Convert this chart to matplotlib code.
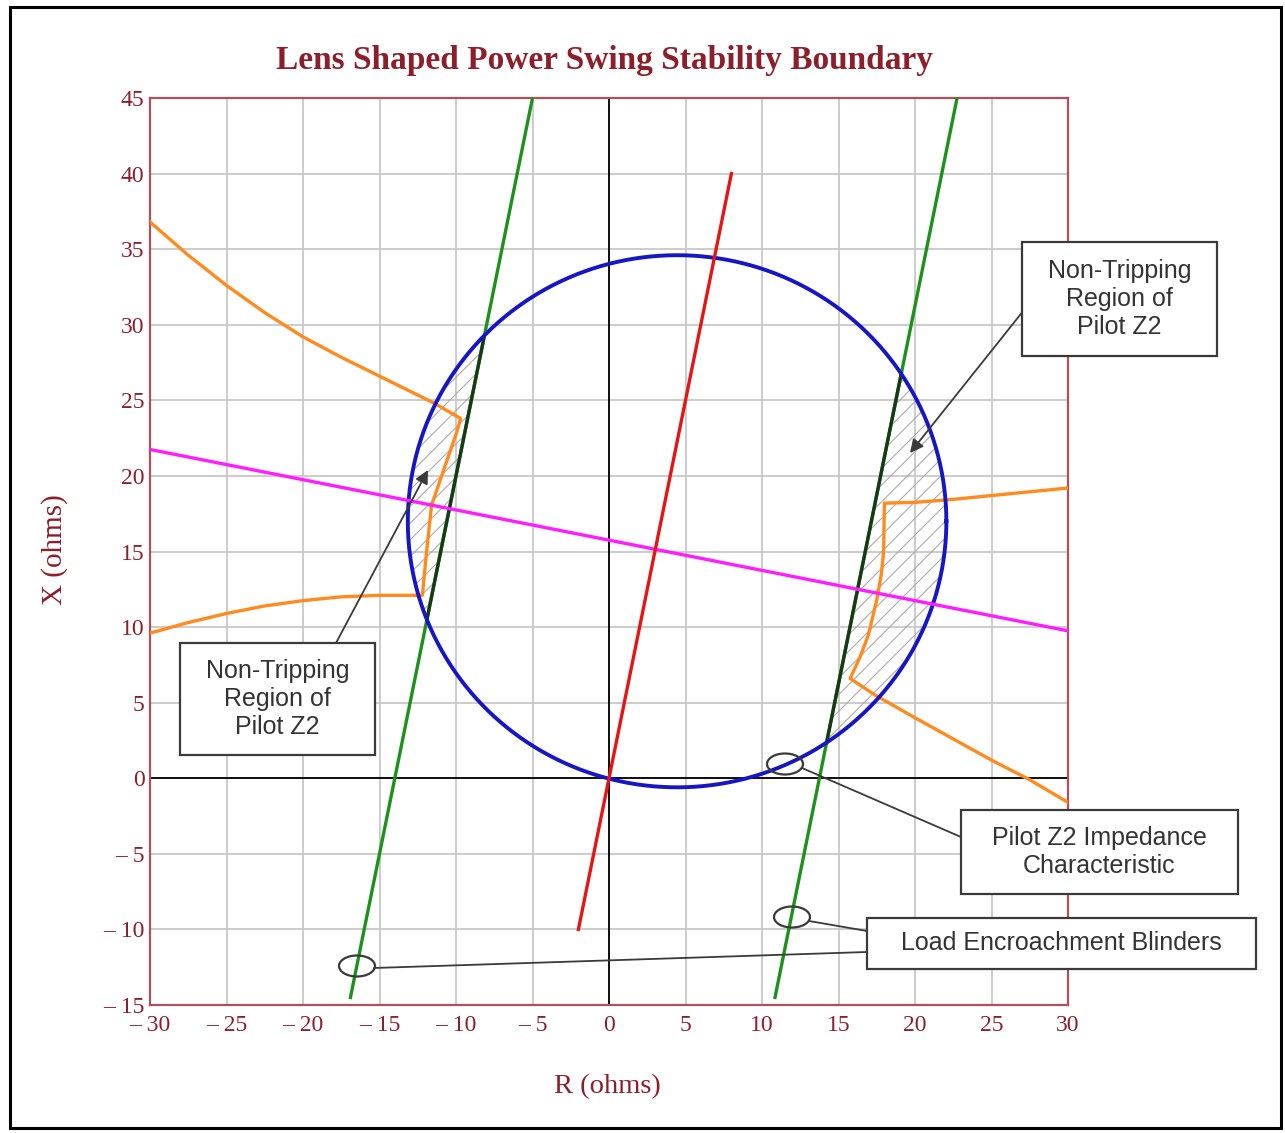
import numpy as np
import matplotlib
matplotlib.use("Agg")
import matplotlib.pyplot as plt
from matplotlib.patches import Circle, Polygon, Rectangle, Ellipse, FancyArrowPatch
from matplotlib.lines import Line2D

# ---------------- data ----------------
title = "Lens Shaped Power Swing Stability Boundary"
xlabel = "R (ohms)"
ylabel = "X (ohms)"
r_ticks = list(range(-30, 31, 5))
x_ticks = list(range(-15, 46, 5))

# Pilot Z2 mho circle
circle_center_r = 4.45
circle_center_x = 17.0
circle_radius = 17.6

# line angle (slope X/R) shared by the characteristic line and blinders
line_slope = 5.0
char_line_r = [-2.0, 8.0]           # red line R extent
left_blinder_r0 = -14.0             # R intercept at X = 0
right_blinder_r0 = 13.75
blinder_x_range = [-14.5, 45.0]

# magenta line
mag_r = [-30.0, 30.0]
mag_x = [21.75, 9.75]

# orange boundaries
orange_left_r = [-30, -27.5, -25, -22.5, -20, -17.5, -15, -12.5, -11.4, -9.7,
                 -9.95, -10.7, -11.6, -11.9, -12.2,
                 -15, -17.5, -20, -22.5, -25, -27.5, -30]
orange_left_x = [36.8, 34.6, 32.6, 30.8, 29.2, 27.85, 26.6, 25.35, 24.8, 23.8,
                 22.9, 20.7, 18.05, 15.2, 12.1,
                 12.1, 12.0, 11.75, 11.4, 10.9, 10.3, 9.6]
orange_right_r = [30, 27.5, 25, 22.5, 20, 18.0,
                  17.95, 17.8, 17.5, 16.96, 16.4, 15.76,
                  17.4, 20, 22.5, 25, 27.5, 30]
orange_right_x = [19.2, 18.95, 18.7, 18.45, 18.25, 18.2,
                  15.0, 13.5, 11.8, 9.5, 8.0, 6.6,
                  5.5, 4.0, 2.6, 1.2, -0.1, -1.6]

# ---------------- style ----------------
W, H = 1285, 1133
DARKRED = "#8b1f2c"
SPINE = "#b0505e"
BOXC = "#3a3a3a"
plt.rcParams["hatch.linewidth"] = 0.8

fig = plt.figure(figsize=(W / 100, H / 100), dpi=100)
fig.patch.set_facecolor("white")
ax = fig.add_axes([150 / W, 1 - 1005 / H, (1068 - 150) / W, (1005 - 98) / H])

ax.set_xlim(-30, 30)
ax.set_ylim(-15, 45)

def lab(v):
    return "\u2013 " + str(abs(v)) if v < 0 else str(v)

ax.set_xticks(r_ticks)
ax.set_xticklabels([lab(v) for v in r_ticks])
ax.set_yticks(x_ticks)
ax.set_yticklabels([lab(v) for v in x_ticks])
ax.tick_params(axis="x", length=0, labelsize=17, labelcolor=DARKRED, pad=7)
ax.tick_params(axis="y", length=0, labelsize=17, labelcolor=DARKRED, pad=4)
for t in ax.get_xticklabels() + ax.get_yticklabels():
    t.set_fontfamily("Liberation Serif")
ax.grid(True, color="#c8c8c8", lw=1.3, zorder=0)
ax.set_axisbelow(True)
for s in ax.spines.values():
    s.set_color(SPINE)
    s.set_linewidth(1.6)

ax.axhline(0, color="black", lw=1.3, zorder=1)
ax.axvline(0, color="black", lw=1.3, zorder=1)

# hatched non-tripping regions (circle clipped by blinder half-planes)
def blinder_r(r0, xv):
    return r0 + np.asarray(xv) / line_slope

ylo, yhi = -30.0, 60.0
for r0, side in [(left_blinder_r0, -1), (right_blinder_r0, 1)]:
    far = 100 * side
    clip = Polygon([(blinder_r(r0, ylo), ylo), (blinder_r(r0, yhi), yhi),
                    (far, yhi), (far, ylo)], closed=True,
                   transform=ax.transData, facecolor="none", edgecolor="none")
    hp = Circle((circle_center_r, circle_center_x), circle_radius,
                facecolor="none", edgecolor="#ababab", lw=0, hatch="//", zorder=2)
    ax.add_patch(hp)
    hp.set_clip_path(clip)

# blinders
for r0 in (left_blinder_r0, right_blinder_r0):
    xv = np.array(blinder_x_range)
    ax.plot(blinder_r(r0, xv), xv, color="#1c921c", lw=2.4, zorder=3)
    # dark segment inside circle
    a = 1 / line_slope
    b = r0 - circle_center_r
    A = a * a + 1
    B = 2 * a * b - 2 * circle_center_x
    C = b * b + circle_center_x ** 2 - circle_radius ** 2
    disc = np.sqrt(B * B - 4 * A * C)
    xs = np.array([(-B - disc) / (2 * A), (-B + disc) / (2 * A)])
    ax.plot(blinder_r(r0, xs), xs, color="#163a16", lw=2.4, zorder=3.1)

# orange boundaries
ax.plot(orange_left_r, orange_left_x, color="#ff8a1e", lw=2.4, zorder=4,
        solid_joinstyle="round")
ax.plot(orange_right_r, orange_right_x, color="#ff8a1e", lw=2.4, zorder=4,
        solid_joinstyle="round")

# mho circle
th = np.linspace(0, 2 * np.pi, 600)
ax.plot(circle_center_r + circle_radius * np.cos(th),
        circle_center_x + circle_radius * np.sin(th),
        color="#1616c4", lw=2.8, zorder=5)

# magenta line
ax.plot(mag_r, mag_x, color="#ff1cff", lw=2.4, zorder=6)

# characteristic line
cr = np.array(char_line_r)
ax.plot(cr, line_slope * cr, color="#e81414", lw=2.4, zorder=7)

# titles / labels
fig.text(605 / W, 1 - 60 / H, title, ha="center", va="center",
         fontsize=24, fontweight="bold", color=DARKRED, family="Liberation Serif")
fig.text(607 / W, 1 - 1087 / H, xlabel, ha="center", va="center",
         fontsize=20.5, color=DARKRED, family="Liberation Serif")
fig.text(55 / W, 1 - 550 / H, ylabel, ha="center", va="center", rotation=90,
         fontsize=21, color=DARKRED, family="Liberation Serif")

# ---------------- annotations (figure pixel layout) ----------------
def fp(px, py):
    return (px / W, 1 - py / H)

def box(x0, y0, x1, y1, text):
    fig.add_artist(Rectangle(fp(x0, y1), (x1 - x0) / W, (y1 - y0) / H,
                             transform=fig.transFigure, facecolor="white",
                             edgecolor=BOXC, lw=1.6, zorder=10))
    cx, cy = fp((x0 + x1) / 2, (y0 + y1) / 2)
    fig.text(cx, cy, text, ha="center", va="center", fontsize=18,
             color="#333333", family="Liberation Sans", linespacing=1.2,
             zorder=11)

def seg(p, q):
    a, b = fp(*p), fp(*q)
    fig.add_artist(Line2D([a[0], b[0]], [a[1], b[1]], transform=fig.transFigure,
                          color=BOXC, lw=1.3, zorder=9))

def ell(px, py):
    fig.add_artist(Ellipse(fp(px, py), 36 / W, 21 / H, transform=fig.transFigure,
                           fill=False, edgecolor=BOXC, lw=1.6, zorder=9))

def arrow(p, q):
    fig.add_artist(FancyArrowPatch(fp(*p), fp(*q), transform=fig.transFigure,
                                   arrowstyle="-|>", mutation_scale=20,
                                   color=BOXC, lw=1.3, zorder=9,
                                   shrinkA=0, shrinkB=0))

arrow((1024, 310), (910, 453))
box(1022, 242, 1217, 356, "Non-Tripping\nRegion of\nPilot Z2")

arrow((336, 643), (428, 470))
box(180, 643, 375, 755, "Non-Tripping\nRegion of\nPilot Z2")

ell(785, 764)
seg((802, 768), (961, 837))
box(961, 810, 1238, 894, "Pilot Z2 Impedance\nCharacteristic")

ell(792, 917)
ell(357, 966)
seg((809, 921), (867, 931))
seg((374, 968), (867, 952))
box(867, 918, 1256, 969, "Load Encroachment Blinders")

# outer frame
fig.add_artist(Rectangle(fp(10, 1128), (1281 - 10) / W, (1128 - 7) / H,
                         transform=fig.transFigure, fill=False,
                         edgecolor="black", lw=2.2, zorder=20))

fig.savefig("out.png", dpi=100)
